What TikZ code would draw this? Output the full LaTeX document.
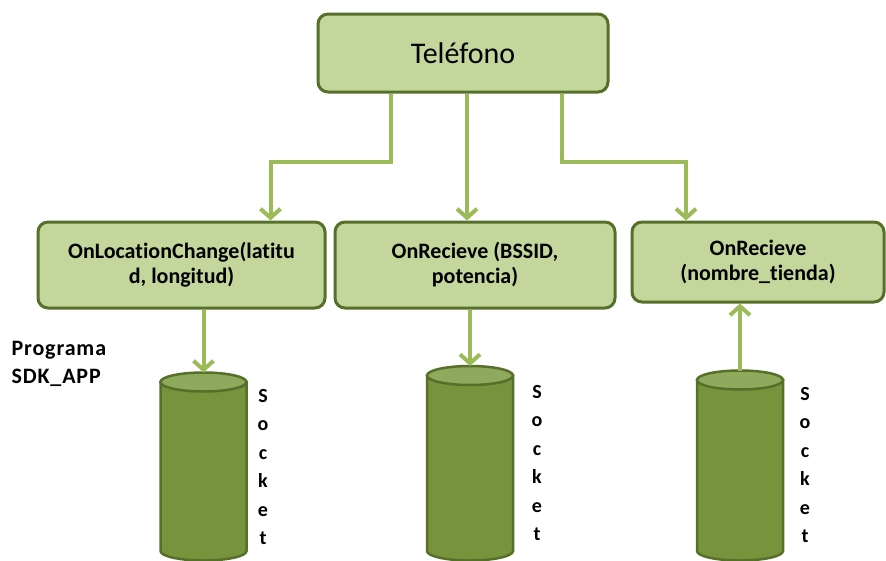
\documentclass[tikz,border=0pt]{standalone}
\usepackage{fontspec}
\setmainfont{Carlito}[Ligatures=NoCommon]
\newfontfamily\widebold{Carlito}[Ligatures=NoCommon, LetterSpace=4]
\usetikzlibrary{calc,arrows.meta}
\definecolor{boxfill}{HTML}{C3D69B}
\definecolor{boxline}{HTML}{56702A}
\definecolor{linkgreen}{HTML}{9BBB59}
\definecolor{cylbody}{HTML}{77933C}
\definecolor{cyltop}{HTML}{8FAA5C}

\begin{document}
\begin{tikzpicture}[
        %We set the units (one pixel) and define some styles
        x=1pt, y=-1pt,
        every node/.style={color=black,},
        box/.style={draw=boxline, fill=boxfill, line width=3pt, rounded corners=10pt,
            align=center, font=\bfseries\fontsize{22}{25}\selectfont},
        link/.style={draw=linkgreen, line width=4pt, ->,
            >={Straight Barb[length=9pt,width=20pt]}},
        cylinder body/.style={draw=boxline, fill=cylbody, line width=2.5pt},
        cylinder top/.style={draw=boxline, fill=cyltop, line width=2.5pt},
        socket label/.style={align=center, font=\bfseries\fontsize{20}{28.5}\selectfont},
]
    \useasboundingbox (0,0) rectangle (886,560);
    \clip (0,0) rectangle (886,560);

    % The phone and the three callbacks
    \node[box, minimum width=290pt, minimum height=78pt,
          font=\fontsize{30}{34}\selectfont] (tel) at (463,53) {Teléfono};
    \node[box, minimum width=287pt, minimum height=86pt] (loc) at (181.5,265)
        {OnLocationChange(latitu\\d, longitud)};
    \node[box, minimum width=280pt, minimum height=86pt] (bssid) at (475,265)
        {OnRecieve (BSSID,\\potencia)};
    \node[box, minimum width=252pt, minimum height=80pt] (tienda) at (758,262)
        {OnRecieve\\(nombre\_tienda)};

    % The sockets are drawn as cylinders
    \foreach \cx/\cy/\n in {203.5/382/A, 470/375.5/B, 740/380/C}{
        \filldraw[cylinder body] (\cx-43,\cy) -- (\cx-43,551)
            arc[start angle=180, end angle=0, x radius=43, y radius=9.5]
            -- (\cx+43,\cy) -- cycle;
        \filldraw[cylinder top] (\cx,\cy) ellipse[x radius=43, y radius=9.5];
        \coordinate (sock\n) at (\cx,\cy-9.5);
    }
    \node[socket label] (lblA) at (263,467) {S\\o\\c\\k\\e\\t};
    \node[socket label] (lblB) at (537,463) {S\\o\\c\\k\\e\\t};
    \node[socket label] (lblC) at (805,465) {S\\o\\c\\k\\e\\t};
    \node[align=left, anchor=west, font=\widebold\bfseries\fontsize{22}{28}\selectfont]
        (prog) at (8,364) {Programa\\SDK\_APP};

    % Connections
    \draw[link] ([xshift=-72pt]tel.south) -- ++(0,68) -| ([xshift=89pt]loc.north);
    \draw[link] ([xshift=4pt]tel.south) -- ([xshift=4pt]tel.south |- bssid.north);
    \draw[link] ([xshift=99pt]tel.south) -- ++(0,68) -| ([xshift=-72pt]tienda.north);
    \draw[link] (loc.south -| sockA) -- (sockA);
    \draw[link] (bssid.south -| sockB) -- (sockB);
    \draw[link] (sockC) -- (sockC |- tienda.south);
\end{tikzpicture}
\end{document}
